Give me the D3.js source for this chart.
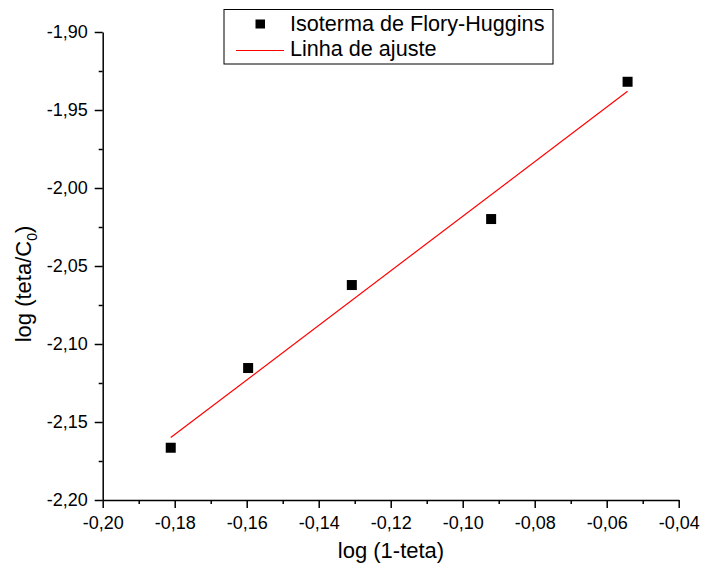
<!DOCTYPE html>
<html><head><meta charset="utf-8">
<script src="https://cdn.jsdelivr.net/npm/d3@7"></script>
<style>body{margin:0;background:#fff}svg{font-family:"Liberation Sans",Arial,sans-serif}</style>
</head><body>
<svg id="c" width="703" height="574"></svg>
<script>
const xValues = [-0.1811, -0.1596, -0.1308, -0.0921, -0.0542];
const yValues = [-2.1665, -2.1154, -2.0622, -2.0199, -1.9319];
const fitX = [-0.1811, -0.0542];
const fitY = [-2.1600, -1.9380];
const xTicks = [-0.20, -0.18, -0.16, -0.14, -0.12, -0.10, -0.08, -0.06, -0.04];
const yTicks = [-2.20, -2.15, -2.10, -2.05, -2.00, -1.95, -1.90];
const xMinor = [-0.19, -0.17, -0.15, -0.13, -0.11, -0.09, -0.07, -0.05];
const yMinor = [-2.175, -2.125, -2.075, -2.025, -1.975, -1.925];
const legendLabels = ["Isoterma de Flory-Huggins", "Linha de ajuste"];

const svg = d3.select("#c");
const x = d3.scaleLinear().domain([-0.20, -0.04]).range([102.7, 678.7]);
const y = d3.scaleLinear().domain([-2.20, -1.90]).range([500, 32]);
const fmt = d => d3.format(".2f")(d).replace(".", ",").replace("−", "-");

const xAxis = svg.append("g").attr("transform", "translate(0,500)")
  .call(d3.axisBottom(x).tickValues(xTicks).tickFormat(fmt).tickSize(8).tickSizeOuter(0));
svg.append("g").attr("transform", "translate(0,500)")
  .call(d3.axisBottom(x).tickValues(xMinor).tickFormat("").tickSize(4).tickSizeOuter(0))
  .select(".domain").remove();
const yAxis = svg.append("g").attr("transform", "translate(102.7,0)")
  .call(d3.axisLeft(y).tickValues(yTicks).tickFormat(fmt).tickSize(8).tickSizeOuter(0));
svg.append("g").attr("transform", "translate(102.7,0)")
  .call(d3.axisLeft(y).tickValues(yMinor).tickFormat("").tickSize(4).tickSizeOuter(0))
  .select(".domain").remove();
svg.selectAll(".domain, .tick line").attr("stroke", "#000").attr("stroke-width", 1.5);
svg.selectAll(".tick text").attr("font-size", 18).attr("fill", "#000")
  .attr("font-family", "'Liberation Sans', Arial, sans-serif");
xAxis.selectAll(".tick text").attr("y", 29).attr("dy", 0);
yAxis.selectAll(".tick text").attr("x", -15);

// fit line
svg.append("line")
  .attr("x1", x(fitX[0])).attr("y1", y(fitY[0]))
  .attr("x2", x(fitX[1])).attr("y2", y(fitY[1]))
  .attr("stroke", "#ff0000").attr("stroke-width", 1.2);

// points
const s = 10;
svg.selectAll("rect.pt").data(xValues.map((v, i) => [v, yValues[i]])).enter()
  .append("rect").attr("class", "pt")
  .attr("x", d => x(d[0]) - s / 2).attr("y", d => y(d[1]) - s / 2)
  .attr("width", s).attr("height", s).attr("fill", "#000");

// axis titles
svg.append("text").attr("x", 391).attr("y", 558).attr("text-anchor", "middle")
  .attr("font-size", 22).text("log (1-teta)");
const yt = svg.append("text").attr("transform", "translate(31,284) rotate(-90)")
  .attr("text-anchor", "middle").attr("font-size", 22);
yt.append("tspan").text("log (teta/C");
yt.append("tspan").attr("font-size", 14).attr("dy", 6).text("0");
yt.append("tspan").attr("dy", -6).text(")");

// legend
const lg = svg.append("g");
lg.append("rect").attr("x", 224).attr("y", 9.5).attr("width", 329).attr("height", 54.5)
  .attr("fill", "#fff").attr("stroke", "#000").attr("stroke-width", 1);
lg.append("rect").attr("x", 255.5).attr("y", 19.5).attr("width", 9.5).attr("height", 9).attr("fill", "#000");
lg.append("line").attr("x1", 236).attr("x2", 284).attr("y1", 50.5).attr("y2", 50.5)
  .attr("stroke", "#ff0000").attr("stroke-width", 1.2);
lg.selectAll("text.lg").data(legendLabels).enter().append("text").attr("class", "lg")
  .attr("x", 290).attr("y", (d, i) => 31 + i * 24.5).attr("font-size", 21.6).text(d => d);
</script>
</body></html>
